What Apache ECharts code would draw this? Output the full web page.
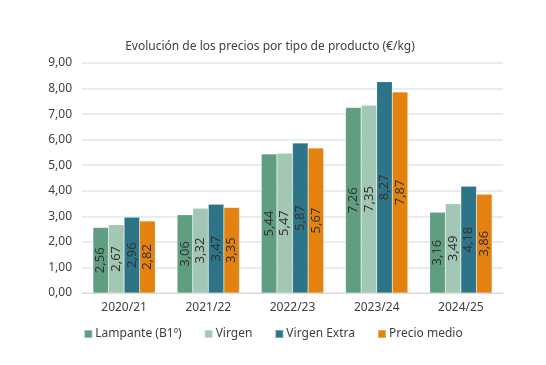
<!DOCTYPE html>
<html><head><meta charset="utf-8">
<script src="https://cdn.jsdelivr.net/npm/echarts@6/dist/echarts.min.js"></script>
<style>html,body{margin:0;padding:0;background:#fff}#c{width:546px;height:365px}</style>
</head><body><div id="c"></div>
<script>
var categories = ['2020/21','2021/22','2022/23','2023/24','2024/25'];
var lampante = [2.56, 3.06, 5.44, 7.26, 3.16];
var virgen = [2.67, 3.32, 5.47, 7.35, 3.49];
var virgenExtra = [2.96, 3.47, 5.87, 8.27, 4.18];
var precioMedio = [2.82, 3.35, 5.67, 7.87, 3.86];
var seriesNames = ['Lampante (B1º)','Virgen','Virgen Extra','Precio medio'];
var colors = ['#5f9e80','#a3c7b5','#2e7487','#e3820f'];
var FONT = 'Noto Sans';
function fmt(v){return v.toFixed(2).replace('.',',');}
var data = [lampante, virgen, virgenExtra, precioMedio];
var chart = echarts.init(document.getElementById('c'));
chart.setOption({
  animation:false,
  textStyle:{fontFamily:FONT},
  title:{text:'Evolución de los precios por tipo de producto (€/kg)',left:265,textAlign:'center',top:36,
    textStyle:{fontSize:12,fontWeight:'normal',color:'#404040',fontFamily:FONT}},
  legend:{bottom:20,left:'center',itemWidth:8,itemHeight:8,itemGap:22,icon:'rect',
    textStyle:{fontSize:12,color:'#404040',fontFamily:FONT,padding:[0,0,0,-2]},data:seriesNames},
  grid:{left:82,right:43,top:63,bottom:72},
  xAxis:{type:'category',data:categories,axisTick:{show:false},
    axisLine:{lineStyle:{color:'#d9d9d9'}},
    axisLabel:{fontSize:12,color:'#404040',margin:9}},
  yAxis:{type:'value',min:0,max:9,interval:1,
    axisLabel:{fontSize:12,color:'#404040',formatter:function(v){return fmt(v);},margin:10},
    splitLine:{lineStyle:{color:'#e6e6e6',width:1.5}}},
  series:data.map(function(d,i){return {
    name:seriesNames[i],type:'bar',data:d,barGap:'0%',barCategoryGap:'26%',
    itemStyle:{color:colors[i],borderColor:'rgba(255,255,255,0.35)',borderWidth:0.5},
    label:{show:true,position:'inside',rotate:90,fontSize:13,color:'#333',fontFamily:FONT,
      formatter:function(p){return fmt(p.value);}}
  };})
});
</script></body></html>
